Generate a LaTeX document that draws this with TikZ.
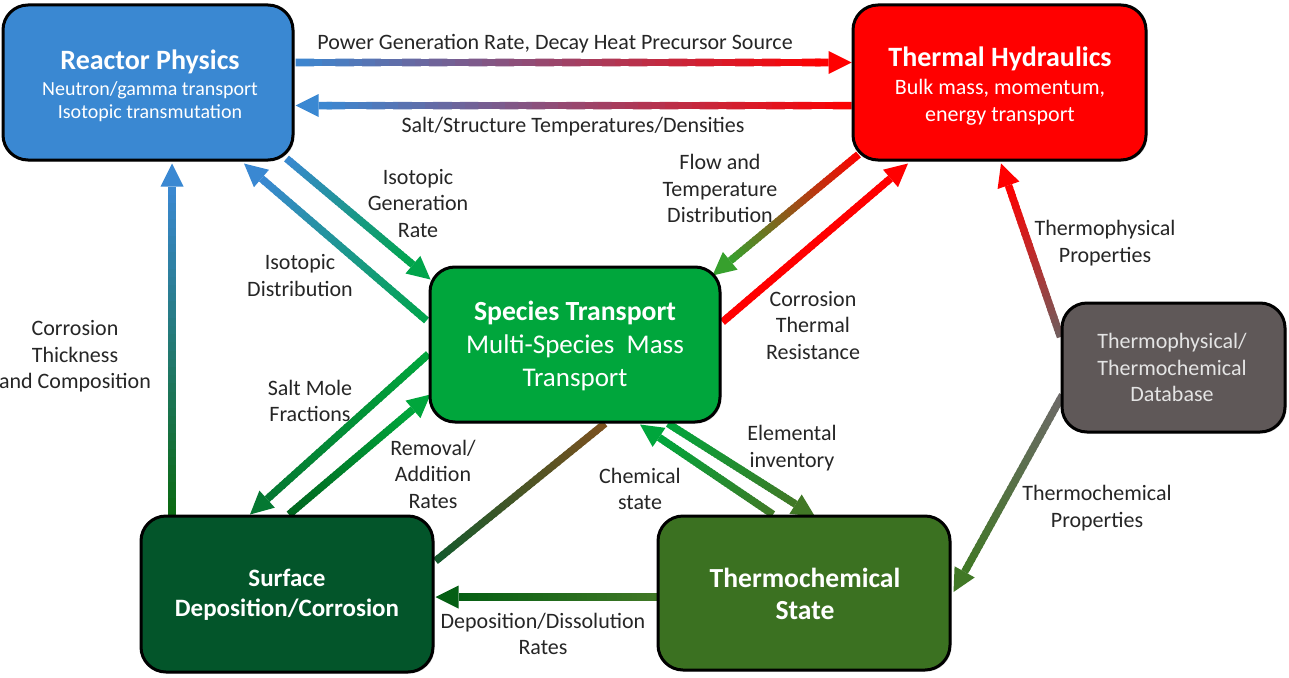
\documentclass[tikz,border=0pt]{standalone}
\usepackage{fontspec}
\setmainfont{Carlito}
\usetikzlibrary{calc,shadows}
\definecolor{rpblue}{RGB}{58,136,210}
\definecolor{thred}{RGB}{255,0,0}
\definecolor{stgreen}{RGB}{0,166,60}
\definecolor{sdcgreen}{RGB}{3,85,42}
\definecolor{tcsgreen}{RGB}{59,113,33}
\definecolor{dbgray}{RGB}{95,88,88}
\definecolor{dbtext}{RGB}{228,228,228}
\definecolor{agreen}{RGB}{0,165,75}
\definecolor{flowgreen}{RGB}{55,160,45}
\definecolor{cdark}{RGB}{10,105,15}
\definecolor{smgreen}{RGB}{5,120,50}
\definecolor{radark}{RGB}{0,100,30}
\definecolor{brown}{RGB}{125,80,30}
\definecolor{brgreen}{RGB}{20,90,45}
\definecolor{tcsarrow}{RGB}{65,120,38}
\definecolor{ddgreen}{RGB}{5,95,20}
\definecolor{arrgray}{RGB}{110,95,95}
\definecolor{arrgray2}{RGB}{110,105,105}
\pgfdeclarelayer{bg}
\pgfsetlayers{bg,main}
\newcommand\garrow[4]{%
  \path (#1) coordinate (ga-s) (#2) coordinate (ga-e);
  \path ($(ga-e)!23pt!(ga-s)$) coordinate (ga-b);
  \foreach \i in {1,...,40}{%
    \pgfmathsetmacro\ta{(\i-1)/40}%
    \pgfmathsetmacro\tb{min(1,(\i+0.4)/40)}%
    \pgfmathtruncatemacro\pc{100-100*(\i-0.5)/40}%
    \draw[shaft, draw=#3!\pc!#4] ($(ga-s)!\ta!(ga-b)$) -- ($(ga-s)!\tb!(ga-b)$);
  }
  \fill[#4] (ga-e) -- ($(ga-b)!11.5pt!90:(ga-e)$) -- ($(ga-b)!11.5pt!-90:(ga-e)$) -- cycle;
}
\newcommand\gline[4]{%
  \path (#1) coordinate (ga-s) (#2) coordinate (ga-e);
  \foreach \i in {1,...,40}{%
    \pgfmathsetmacro\ta{(\i-1)/40}%
    \pgfmathsetmacro\tb{min(1,(\i+0.4)/40)}%
    \pgfmathtruncatemacro\pc{100-100*(\i-0.5)/40}%
    \draw[shaft, draw=#3!\pc!#4] ($(ga-s)!\ta!(ga-e)$) -- ($(ga-s)!\tb!(ga-e)$);
  }
}
\begin{document}
\begin{tikzpicture}[x=1pt,y=-1pt,
  box/.style={draw=black, line width=3pt, rounded corners=25pt, inner sep=0pt,
    drop shadow={shadow xshift=1.5pt, shadow yshift=-1.5pt, opacity=0.3}},
  boxtext/.style={align=center, text=white, inner sep=0pt},
  lbl/.style={align=center, text=black!85, inner sep=0pt, font=\fontsize{22}{26.5}\selectfont},
  shaft/.style={line width=7.5pt}]
\useasboundingbox (0,0) rectangle (1289,677);

% boxes
\node[box, fill=rpblue, minimum width=290pt, minimum height=155pt] (rp) at (148,82.5) {};
\node[box, fill=thred, minimum width=293pt, minimum height=155pt] (th) at (999.5,82.5) {};
\node[box, fill=stgreen, minimum width=290pt, minimum height=155pt] (st) at (575,344.5) {};
\node[box, fill=dbgray, minimum width=223pt, minimum height=129pt] (db) at (1173.5,367.5) {};
\node[box, fill=sdcgreen, minimum width=292pt, minimum height=156pt] (sdc) at (287,594) {};
\node[box, fill=tcsgreen, minimum width=292pt, minimum height=154pt] (tcs) at (804,593) {};

% box texts
\node[boxtext, font=\fontsize{20}{23}\selectfont] (rp-t) at (150,86) {{\fontsize{28}{28}\selectfont\bfseries Reactor Physics}\\[3pt]Neutron/gamma transport\\Isotopic transmutation};
\node[boxtext, font=\fontsize{22}{27}\selectfont] (th-t) at (1000,86) {{\fontsize{28}{28}\selectfont\bfseries Thermal Hydraulics}\\[1pt]Bulk mass, momentum,\\energy transport};
\node[boxtext, font=\fontsize{27}{33}\selectfont] (st-t) at (575,345.5) {{\fontsize{27.7}{33}\selectfont\bfseries Species Transport}\\Multi-Species\ \ Mass\\Transport};
\node[boxtext, font=\fontsize{22}{26.5}\selectfont, text=dbtext] (db-t) at (1172,367.5) {Thermophysical/\\Thermochemical\\Database};
\node[boxtext, font=\fontsize{25}{30}\selectfont\bfseries] (sdc-t) at (287,595) {Surface\\Deposition/Corrosion};
\node[boxtext, font=\fontsize{27.6}{32}\selectfont\bfseries] (tcs-t) at (805,594) {Thermochemical\\State};

% labels
\node[lbl] (l1) at (555,44) {Power Generation Rate, Decay Heat Precursor Source};
\node[lbl] (l2) at (573,127) {Salt/Structure Temperatures/Densities};
\node[lbl] (l3) at (418,203.5) {Isotopic\\Generation\\Rate};
\node[lbl] (l4) at (300,275.5) {Isotopic\\Distribution};
\node[lbl] (l5) at (720,188.5) {Flow and\\Temperature\\Distribution};
\node[lbl] (l6) at (813,325.5) {Corrosion\\Thermal\\Resistance};
\node[lbl] (l7) at (1105,243) {Thermophysical\\Properties};
\node[lbl] (l8) at (1097,508) {Thermochemical\\Properties};
\node[lbl] (l9) at (75,356.5) {Corrosion\\Thickness\\and Composition};
\node[lbl] (l10) at (310,401) {Salt Mole\\Fractions};
\node[lbl] (l11) at (433,474) {Removal/\\Addition\\Rates};
\node[lbl] (l12) at (640,489) {Chemical\\state};
\node[lbl] (l13) at (792,448) {Elemental\\inventory};
\node[lbl] (l14) at (543,634) {Deposition/Dissolution\\Rates};

% connectors
\begin{pgfonlayer}{bg}
\fill[white] (0,0) rectangle (1289,677);
\garrow{$(rp.east)+(1,-20)$}{$(th.west)+(0,-20)$}{rpblue}{thred}
\garrow{$(th.west)+(0,23)$}{$(rp.east)+(1,23)$}{thred}{rpblue}
\garrow{$(rp.south east)+(-8,-3)$}{$(st.north west)+(2,14)$}{rpblue}{agreen}
\garrow{$(st.west)+(-2,-24)$}{$(rp.south)+(96,2)$}{agreen}{rpblue}
\garrow{$(th.south west)+(7,-7)$}{$(st.north east)+(-9,10)$}{thred}{flowgreen}
\garrow{$(st.east)+(1,-22.5)$}{$(th.south)+(-91.5,2)$}{thred}{thred}
\garrow{$(db.west)+(0,-30.5)$}{$(th.south)+(1.5,2)$}{arrgray}{thred}
\garrow{$(db.west)+(2,27.5)$}{$(tcs.east)+(2,-1)$}{arrgray2}{tcsarrow}
\garrow{$(sdc.north)+(-115,0)$}{$(rp.south)+(24,2)$}{cdark}{rpblue}
\garrow{$(st.west)+(0,9.5)$}{$(sdc.north)+(-37,0)$}{stgreen}{smgreen}
\garrow{$(sdc.north)+(2,0)$}{$(st.south west)+(2,-29)$}{radark}{stgreen}
\gline{$(st.south)+(30,0)$}{$(sdc.east)+(1,-33)$}{brown}{brgreen}
\garrow{$(tcs.north)+(-31,0)$}{$(st.south)+(65,1)$}{tcsarrow}{stgreen}
\garrow{$(st.south)+(93,0)$}{$(tcs.north)+(11,2)$}{stgreen}{tcsarrow}
\garrow{$(tcs.west)+(0,4)$}{$(sdc.east)+(1,3)$}{tcsarrow}{ddgreen}
\end{pgfonlayer}
\end{tikzpicture}
\end{document}
